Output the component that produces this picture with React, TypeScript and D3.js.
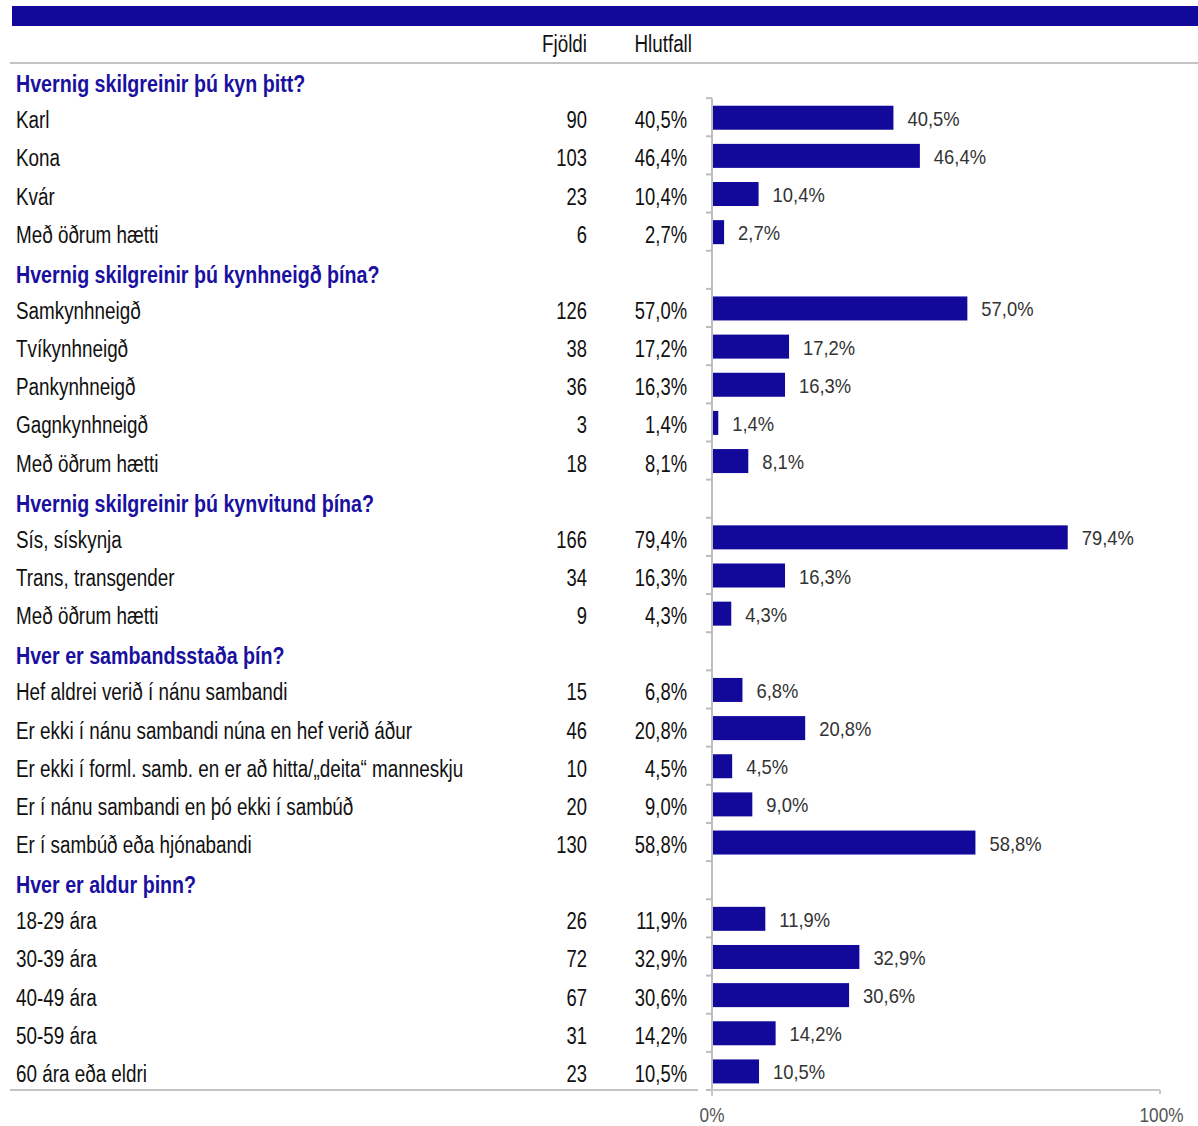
import React from "react";
import * as d3 from "d3";

const sectionTitles = [
  "Hvernig skilgreinir þú kyn þitt?",
  "Hvernig skilgreinir þú kynhneigð þína?",
  "Hvernig skilgreinir þú kynvitund þína?",
  "Hver er sambandsstaða þín?",
  "Hver er aldur þinn?",
];

const genderLabels = ["Karl", "Kona", "Kvár", "Með öðrum hætti"];
const genderCounts = [90, 103, 23, 6];
const genderPcts = [40.5, 46.4, 10.4, 2.7];

const orientationLabels = ["Samkynhneigð", "Tvíkynhneigð", "Pankynhneigð", "Gagnkynhneigð", "Með öðrum hætti"];
const orientationCounts = [126, 38, 36, 3, 18];
const orientationPcts = [57.0, 17.2, 16.3, 1.4, 8.1];

const identityLabels = ["Sís, sískynja", "Trans, transgender", "Með öðrum hætti"];
const identityCounts = [166, 34, 9];
const identityPcts = [79.4, 16.3, 4.3];

const relationLabels = [
  "Hef aldrei verið í nánu sambandi",
  "Er ekki í nánu sambandi núna en hef verið áður",
  "Er ekki í forml. samb. en er að hitta/„deita“ manneskju",
  "Er í nánu sambandi en þó ekki í sambúð",
  "Er í sambúð eða hjónabandi",
];
const relationCounts = [15, 46, 10, 20, 130];
const relationPcts = [6.8, 20.8, 4.5, 9.0, 58.8];

const ageLabels = ["18-29 ára", "30-39 ára", "40-49 ára", "50-59 ára", "60 ára eða eldri"];
const ageCounts = [26, 72, 67, 31, 23];
const agePcts = [11.9, 32.9, 30.6, 14.2, 10.5];

const axisTicks = [0, 100];

type Row = { key: string; header: boolean; label: string; count?: number; pct?: number };

const sections = [
  { labels: genderLabels, counts: genderCounts, pcts: genderPcts },
  { labels: orientationLabels, counts: orientationCounts, pcts: orientationPcts },
  { labels: identityLabels, counts: identityCounts, pcts: identityPcts },
  { labels: relationLabels, counts: relationCounts, pcts: relationPcts },
  { labels: ageLabels, counts: ageCounts, pcts: agePcts },
];

const rows: Row[] = [];
sections.forEach((s, si) => {
  rows.push({ key: `h${si}`, header: true, label: sectionTitles[si] });
  s.labels.forEach((l, i) =>
    rows.push({ key: `r${si}-${i}`, header: false, label: l, count: s.counts[i], pct: s.pcts[i] })
  );
});

const fmt = (v: number) => d3.format(".1f")(v).replace(".", ",") + "%";

const W = 1198;
const H = 1126;
const BLUE = "#12099b";
const FONT = "'Liberation Sans', Arial, sans-serif";

function CText(props: {
  x: number; y: number; size: number; sx: number; anchor?: string; fill: string; bold?: boolean; children: any;
}) {
  const { x, y, size, sx, anchor = "start", fill, bold, children } = props;
  return (
    <text
      transform={`translate(${x},${y}) scale(${sx},1)`}
      fontSize={size}
      textAnchor={anchor}
      fill={fill}
      fontWeight={bold ? "bold" : "normal"}
    >
      {children}
    </text>
  );
}

export default function App() {
  const y = d3.scaleBand<string>().domain(rows.map((r) => r.key)).range([60, 1090]).paddingInner(0);
  const x = d3.scaleLinear().domain([0, 100]).range([712, 1160]);
  const bw = y.bandwidth();
  const barH = 24;
  const axisTop = y(rows[1].key)!;
  const axisBottom = 1090;

  return (
    <svg width={W} height={H} style={{ position: "absolute", left: 0, top: 0 }} fontFamily={FONT}>
      <rect x={12} y={6} width={W - 12} height={20} fill={BLUE} />
      <CText x={587} y={52} size={23} sx={0.82} anchor="end" fill="#111">Fjöldi</CText>
      <CText x={692} y={52} size={23} sx={0.82} anchor="end" fill="#111">Hlutfall</CText>
      <line x1={10} x2={W} y1={63} y2={63} stroke="#c3c3c3" strokeWidth={2} />

      {rows.map((r) => {
        const cy = y(r.key)! + bw / 2;
        if (r.header) {
          return (
            <CText key={r.key} x={16} y={cy + 13} size={23} sx={0.855} fill="#1a10a0" bold>
              {r.label}
            </CText>
          );
        }
        return (
          <g key={r.key}>
            <CText x={16} y={cy + 11} size={23} sx={0.82} fill="#111">{r.label}</CText>
            <CText x={587} y={cy + 11} size={23} sx={0.8} anchor="end" fill="#111">{r.count}</CText>
            <CText x={687} y={cy + 11} size={23} sx={0.8} anchor="end" fill="#111">{fmt(r.pct!)}</CText>
            <rect x={x(0)} y={cy - 11.5} width={x(r.pct!) - x(0)} height={barH} fill={BLUE} />
            <CText x={x(r.pct!) + 14} y={cy + 8.5} size={20} sx={0.92} fill="#333">{fmt(r.pct!)}</CText>
          </g>
        );
      })}

      {/* category axis */}
      <line x1={712} x2={712} y1={axisTop} y2={axisBottom + 6} stroke="#bdbdbd" strokeWidth={2} />
      {rows.slice(1).map((r) => (
        <line key={"t" + r.key} x1={706} x2={712} y1={y(r.key)!} y2={y(r.key)!} stroke="#bdbdbd" strokeWidth={2} />
      ))}
      <line x1={706} x2={712} y1={axisBottom} y2={axisBottom} stroke="#bdbdbd" strokeWidth={2} />
      {/* table bottom line */}
      <line x1={10} x2={698} y1={axisBottom} y2={axisBottom} stroke="#c3c3c3" strokeWidth={2} />
      {/* value axis */}
      <line x1={712} x2={1160} y1={axisBottom} y2={axisBottom} stroke="#c8c8c8" strokeWidth={2} />
      {axisTicks.map((t) => (
        <g key={"a" + t}>
          <line x1={x(t)} x2={x(t)} y1={axisBottom} y2={axisBottom + (t === 0 ? 6 : 4)} stroke="#c8c8c8" strokeWidth={2} />
          <CText x={x(t) + (t === 100 ? 1.5 : 0)} y={1122} size={20} sx={0.86} anchor="middle" fill="#555">
            {t + "%"}
          </CText>
        </g>
      ))}
    </svg>
  );
}
